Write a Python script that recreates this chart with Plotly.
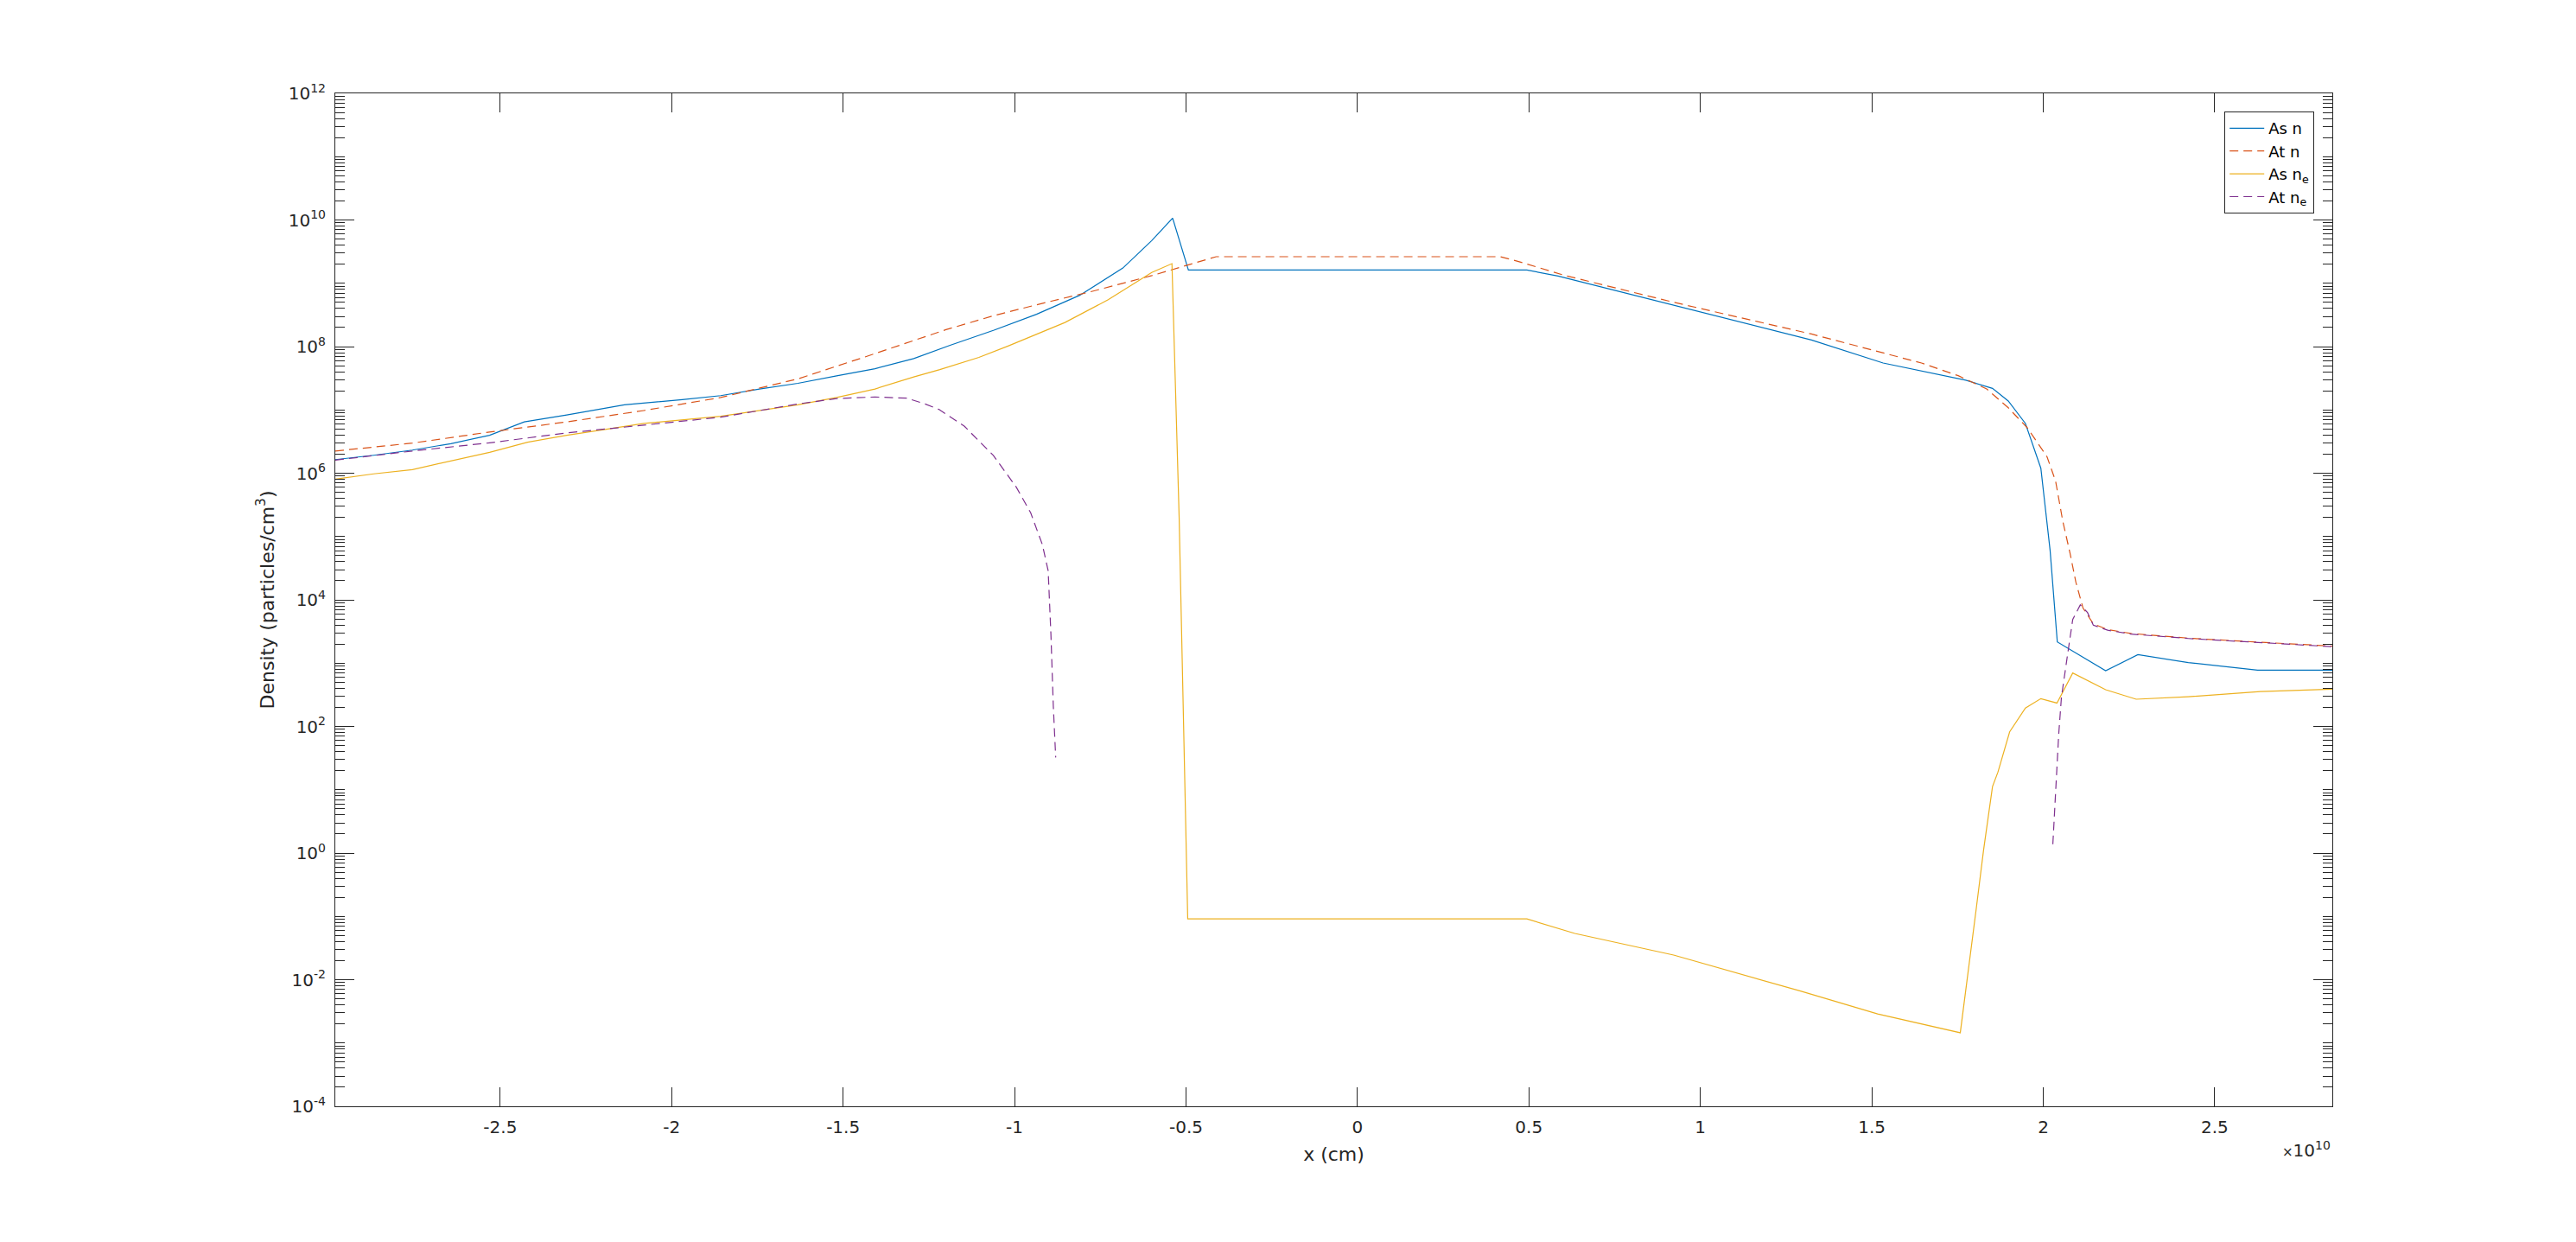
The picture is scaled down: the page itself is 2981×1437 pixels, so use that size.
import plotly.graph_objects as go

# x positions in units of 1e10 cm (axis shows "x10^10")
as_n_x = [-2.981, -2.869, -2.756, -2.644, -2.531, -2.43, -2.306, -2.138, -1.969, -1.857,
          -1.744, -1.632, -1.519, -1.407, -1.294, -1.188, -1.06, -0.936, -0.81, -0.684,
          -0.60, -0.539, -0.493, 0.494, 0.585, 0.922, 1.324, 1.533, 1.774, 1.852,
          1.898, 1.948, 1.993, 2.003, 2.02, 2.041, 2.182, 2.276, 2.423, 2.625, 2.843]
as_n_y = [1.64e6, 1.92e6, 2.32e6, 2.93e6, 3.98e6, 6.46e6, 8.32e6, 1.20e7, 1.45e7, 1.68e7,
          2.14e7, 2.63e7, 3.44e7, 4.47e7, 6.46e7, 1.05e8, 1.82e8, 3.24e8, 6.46e8, 1.74e9,
          4.73e9, 1.07e10, 1.62e9, 1.62e9, 1.30e9, 4.47e8, 1.27e8, 5.50e7, 2.95e7, 2.19e7,
          1.38e7, 6.10e6, 1.20e6, 3.98e5, 6.03e4, 2.16e3, 7.59e2, 1.36e3, 1.02e3, 7.76e2, 7.76e2]

at_n_x = [-2.981, -2.756, -2.531, -2.306, -2.081, -1.857, -1.632, -1.44, -1.20, -1.06,
          -0.936, -0.768, -0.60, -0.491, -0.412, 0.417, 0.472, 0.60, 0.922, 1.324,
          1.645, 1.752, 1.835, 1.898, 1.953, 2.011, 2.036, 2.057, 2.078, 2.095,
          2.116, 2.146, 2.188, 2.255, 2.423, 2.633, 2.843]
at_n_y = [2.24e6, 2.99e6, 4.47e6, 6.46e6, 9.77e6, 1.57e7, 3.09e7, 6.76e7, 1.85e8, 3.09e8,
          4.57e8, 7.59e8, 1.32e9, 1.95e9, 2.63e9, 2.63e9, 2.19e9, 1.35e9, 5.01e8, 1.58e8,
          5.50e7, 3.47e7, 2.14e7, 1.08e7, 5.25e6, 1.82e6, 7.50e5, 1.74e5, 5.50e4, 1.91e4,
          7.41e3, 4.17e3, 3.39e3, 2.95e3, 2.48e3, 2.14e3, 1.86e3]

as_ne_x = [-2.981, -2.869, -2.756, -2.599, -2.531, -2.42, -2.306, -2.194, -2.081, -1.857,
           -1.632, -1.519, -1.407, -1.294, -1.218, -1.104, -1.019, -0.853, -0.727, -0.60,
           -0.541, -0.52, -0.502, -0.495, 0.494, 0.537, 0.585, 0.634, 0.922, 1.292,
           1.517, 1.758, 1.805, 1.826, 1.852, 1.868, 1.902, 1.948, 1.993, 2.04,
           2.086, 2.182, 2.271, 2.423, 2.633, 2.843]
as_ne_y = [8.07e5, 9.77e5, 1.14e6, 1.74e6, 2.14e6, 3.09e6, 3.98e6, 4.90e6, 6.10e6, 7.94e6,
           1.20e7, 1.57e7, 2.14e7, 3.31e7, 4.33e7, 6.76e7, 1.02e8, 2.40e8, 5.50e8, 1.48e9,
           2.04e9, 2.0e5, 3.16, 0.0912, 0.0912, 0.0776, 0.0661, 0.0537, 0.0245, 0.00661,
           0.00288, 0.00145, 0.138, 1.12, 11.2, 19.1, 82.2, 195, 275, 234,
           700, 380, 269, 295, 355, 389]

at_ne_x = [-2.981, -2.756, -2.531, -2.306, -2.081, -1.857, -1.632, -1.519, -1.407, -1.314,
           -1.261, -1.221, -1.146, -1.062, -0.995, -0.953, -0.919, -0.902, -0.894, -0.887,
           -0.88, None, 2.028, 2.036, 2.045, 2.053, 2.063, 2.07, 2.086, 2.108,
           2.129, 2.146, 2.188, 2.255, 2.423, 2.633, 2.843]
at_ne_y = [1.61e6, 2.24e6, 3.02e6, 4.32e6, 5.75e6, 7.67e6, 1.24e7, 1.51e7, 1.60e7, 1.53e7,
           1.24e7, 1.02e7, 5.50e6, 1.91e6, 6.03e5, 2.37e5, 7.48e4, 2.88e4, 2.88e3, 211,
           32.4, None, 1.38, 9.12, 74.1, 288, 741, 1.26e3, 4.90e3, 8.32e3,
           6.31e3, 3.98e3, 3.31e3, 2.88e3, 2.45e3, 2.09e3, 1.82e3]

x_tick_vals = [-2.5, -2, -1.5, -1, -0.5, 0, 0.5, 1, 1.5, 2, 2.5]
x_tick_text = ["-2.5", "-2", "-1.5", "-1", "-0.5", "0", "0.5", "1", "1.5", "2", "2.5"]
y_exponents = [-4, -2, 0, 2, 4, 6, 8, 10, 12]

AX = "#262626"
FONT = "DejaVu Sans"
DASH = "10px,6px"
LW = 1.2

fig = go.Figure()
fig.add_trace(go.Scatter(x=as_n_x, y=as_n_y, mode="lines", name="As n",
                         line=dict(color="#0072BD", width=LW)))
fig.add_trace(go.Scatter(x=at_n_x, y=at_n_y, mode="lines", name="At n",
                         line=dict(color="#D95319", width=LW, dash=DASH)))
fig.add_trace(go.Scatter(x=as_ne_x, y=as_ne_y, mode="lines", name="As n<sub>e</sub>",
                         line=dict(color="#EDB120", width=LW)))
fig.add_trace(go.Scatter(x=at_ne_x, y=at_ne_y, mode="lines", name="At n<sub>e</sub>",
                         connectgaps=False,
                         line=dict(color="#7E2F8E", width=LW, dash=DASH)))

y_tick_vals = [10.0 ** e for e in y_exponents]
y_tick_text = ["10<sup>%d</sup>" % e for e in y_exponents]
minor_vals = []
for e in range(-4, 12):
    for k in range(1, 10):
        if k == 1 and e % 2 == 0:
            continue
        minor_vals.append(k * 10.0 ** e)

fig.update_layout(
    width=2981, height=1437, autosize=False,
    paper_bgcolor="white", plot_bgcolor="white",
    margin=dict(l=388, r=282, t=108, b=157),
    font=dict(family=FONT, color=AX, size=20),
    showlegend=True,
    legend=dict(x=0.991, xanchor="right", y=0.982, yanchor="top",
                bgcolor="white", bordercolor=AX, borderwidth=1,
                font=dict(size=18, family=FONT, color="black"),
                tracegroupgap=0, itemwidth=40),
    xaxis=dict(range=[-2.981, 2.843], showgrid=False, zeroline=False,
               showline=True, linecolor=AX, linewidth=1, mirror="ticks",
               ticks="inside", ticklen=22, tickwidth=1, tickcolor=AX,
               tickmode="array", tickvals=x_tick_vals, ticktext=x_tick_text,
               tickfont=dict(size=20, family=FONT, color=AX),
               ticklabelstandoff=6,
               title=dict(text="x (cm)", font=dict(size=22, family=FONT, color=AX), standoff=12)),
    yaxis=dict(type="log", range=[-4, 12], showgrid=False, zeroline=False,
               showline=True, linecolor=AX, linewidth=1, mirror="ticks",
               ticks="inside", ticklen=22, tickwidth=1, tickcolor=AX,
               tickmode="array", tickvals=y_tick_vals, ticktext=y_tick_text,
               tickfont=dict(size=20, family=FONT, color=AX),
               ticklabelstandoff=6,
               minor=dict(tickmode="array", tickvals=minor_vals, ticks="inside",
                          ticklen=11, tickwidth=1, tickcolor=AX, showgrid=False),
               title=dict(text="Density (particles/cm<sup>3</sup>)",
                          font=dict(size=22, family=FONT, color=AX), standoff=10)),
    annotations=[dict(xref="paper", yref="paper", x=1.0, y=-0.043,
                      xanchor="right", yanchor="middle", showarrow=False,
                      text="<span style='font-size:15px'>×</span>10<sup>10</sup>",
                      font=dict(size=20, family=FONT, color=AX))],
)

fig.write_html("out.html", config={"displayModeBar": False},
               post_script="document.body.style.margin='0';")
